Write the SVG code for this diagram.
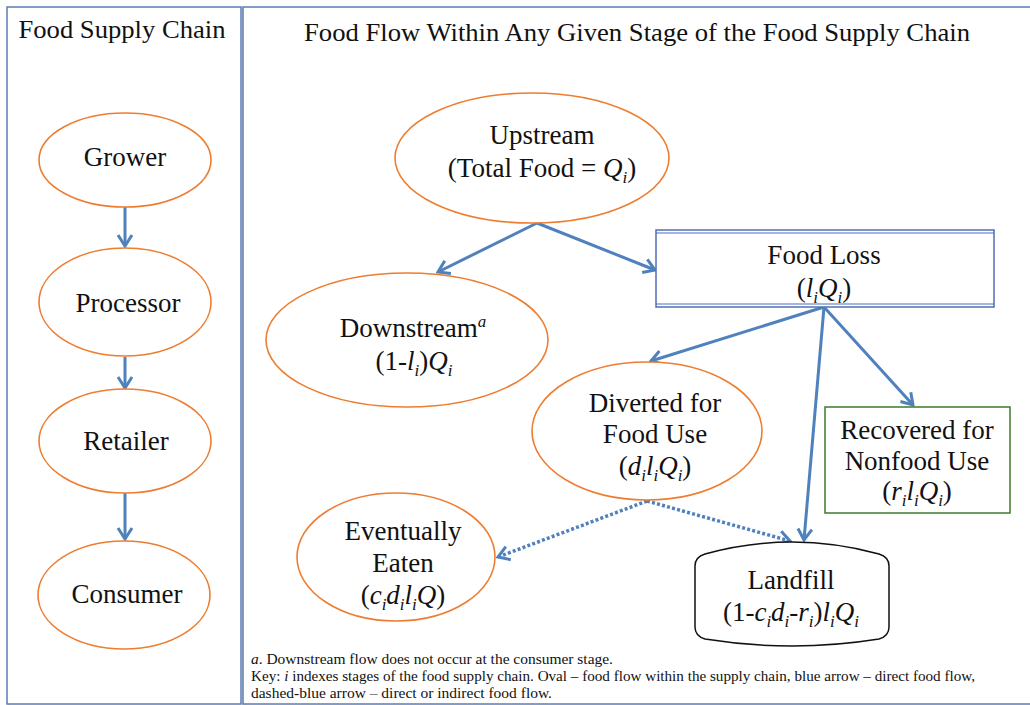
<svg xmlns="http://www.w3.org/2000/svg" width="1030" height="705" viewBox="0 0 1030 705">
<style>
  .panel{fill:#fff;stroke:#5b7bb3;stroke-width:1.5}
  .shadow{fill:none;stroke:#e2e2e2;stroke-width:2}
  .oval{fill:#fff;stroke:#ed7d31;stroke-width:1.6}
  .t{font-family:"Liberation Serif",serif;font-size:27px;fill:#111;text-anchor:middle}
  .title{font-family:"Liberation Serif",serif;font-size:26px;fill:#111;text-anchor:middle}
  .fn{font-family:"Liberation Serif",serif;font-size:14.5px;fill:#111}
  .it{font-style:italic}
  .sb{font-style:italic;font-size:17px}
  .arr{fill:none;stroke:#4f81bd;stroke-width:3}
  .dot{fill:none;stroke:#4f81bd;stroke-width:3.5;stroke-dasharray:3 2.2}
</style>
<defs>
  <marker id="ah" markerUnits="userSpaceOnUse" viewBox="-14 -9 16 18" markerWidth="16" markerHeight="18" refX="0" refY="0" orient="auto">
    <path d="M-11,-7 L0,0 L-11,7" fill="none" stroke="#4f81bd" stroke-width="3" stroke-linejoin="miter"/>
  </marker>
</defs>
<rect width="1030" height="705" fill="#fff"/>
<g id="panels">
  <rect class="shadow" x="9" y="9" width="234" height="700"/>
  <rect class="panel" x="7" y="7" width="234" height="697"/>
  <rect class="shadow" x="246" y="9" width="790" height="700"/>
  <rect class="panel" x="243" y="7" width="790" height="697"/>
  <text class="title" x="122" y="38" textLength="207" lengthAdjust="spacingAndGlyphs">Food Supply Chain</text>
  <text class="title" x="637" y="41" textLength="666" lengthAdjust="spacingAndGlyphs">Food Flow Within Any Given Stage of the Food Supply Chain</text>
</g>
<g id="connectors">
  <line class="arr" x1="125" y1="207" x2="125" y2="246" marker-end="url(#ah)"/>
  <line class="arr" x1="125" y1="357" x2="125" y2="388" marker-end="url(#ah)"/>
  <line class="arr" x1="125" y1="493" x2="125" y2="539" marker-end="url(#ah)"/>
  <line class="arr" x1="537" y1="223" x2="438" y2="272" marker-end="url(#ah)"/>
  <line class="arr" x1="537" y1="223" x2="655" y2="270" marker-end="url(#ah)"/>
  <line class="arr" x1="824" y1="307" x2="651" y2="361" marker-end="url(#ah)"/>
  <line class="arr" x1="824" y1="307" x2="913" y2="405" marker-end="url(#ah)"/>
  <line class="arr" x1="824" y1="307" x2="804" y2="540" marker-end="url(#ah)"/>
  <line class="dot" x1="647" y1="501" x2="498" y2="557" marker-end="url(#ah)"/>
  <line class="dot" x1="647" y1="501" x2="790" y2="541" marker-end="url(#ah)"/>
</g>
<g id="grower">
  <ellipse class="oval" cx="125" cy="160" rx="86" ry="47"/>
  <text class="t" x="125" y="166">Grower</text>
</g>
<g id="processor">
  <ellipse class="oval" cx="125" cy="302" rx="86" ry="54"/>
  <text class="t" x="128" y="312">Processor</text>
</g>
<g id="retailer">
  <ellipse class="oval" cx="125" cy="441" rx="86" ry="52"/>
  <text class="t" x="126" y="450">Retailer</text>
</g>
<g id="consumer">
  <ellipse class="oval" cx="124" cy="595" rx="86" ry="54"/>
  <text class="t" x="127" y="603">Consumer</text>
</g>
<g id="upstream">
  <ellipse class="oval" cx="532" cy="158" rx="137" ry="65"/>
  <text class="t" x="542" y="144">Upstream</text>
  <text class="t" x="542" y="177">(Total Food = <tspan class="it">Q</tspan><tspan class="sb" dy="6">i</tspan><tspan dy="-6">)</tspan></text>
</g>
<g id="foodloss">
  <rect x="656" y="230" width="338" height="77" fill="#fff" stroke="#4f6fb5" stroke-width="1.5"/>
  <line x1="656" y1="233" x2="994" y2="233" stroke="#4f6fb5" stroke-width="1.2"/>
  <line x1="656" y1="304" x2="994" y2="304" stroke="#4f6fb5" stroke-width="1.2"/>
  <text class="t" x="824" y="264">Food Loss</text>
  <text class="t" x="824" y="297">(<tspan class="it">l</tspan><tspan class="sb" dy="6">i</tspan><tspan class="it" dy="-6">Q</tspan><tspan class="sb" dy="6">i</tspan><tspan dy="-6">)</tspan></text>
</g>
<g id="downstream">
  <ellipse class="oval" cx="407" cy="340" rx="141" ry="67"/>
  <text class="t" x="413" y="337">Downstream<tspan class="sb" dy="-10">a</tspan></text>
  <text class="t" x="414" y="370">(1-<tspan class="it">l</tspan><tspan class="sb" dy="6">i</tspan><tspan dy="-6">)</tspan><tspan class="it">Q</tspan><tspan class="sb" dy="6">i</tspan></text>
</g>
<g id="diverted">
  <ellipse class="oval" cx="647" cy="431" rx="115" ry="69"/>
  <text class="t" x="655" y="412">Diverted for</text>
  <text class="t" x="655" y="443">Food Use</text>
  <text class="t" x="655" y="475">(<tspan class="it">d</tspan><tspan class="sb" dy="6">i</tspan><tspan class="it" dy="-6">l</tspan><tspan class="sb" dy="6">i</tspan><tspan class="it" dy="-6">Q</tspan><tspan class="sb" dy="6">i</tspan><tspan dy="-6">)</tspan></text>
</g>
<g id="recovered">
  <rect x="825" y="407" width="185" height="106" fill="#fff" stroke="#3c7a2e" stroke-width="1.5"/>
  <text class="t" x="917" y="439">Recovered for</text>
  <text class="t" x="917" y="470">Nonfood Use</text>
  <text class="t" x="917" y="500">(<tspan class="it">r</tspan><tspan class="sb" dy="6">i</tspan><tspan class="it" dy="-6">l</tspan><tspan class="sb" dy="6">i</tspan><tspan class="it" dy="-6">Q</tspan><tspan class="sb" dy="6">i</tspan><tspan dy="-6">)</tspan></text>
</g>
<g id="eaten">
  <ellipse class="oval" cx="396" cy="557" rx="99" ry="64"/>
  <text class="t" x="403" y="540">Eventually</text>
  <text class="t" x="403" y="572">Eaten</text>
  <text class="t" x="403" y="604">(<tspan class="it">c</tspan><tspan class="sb" dy="6">i</tspan><tspan class="it" dy="-6">d</tspan><tspan class="sb" dy="6">i</tspan><tspan class="it" dy="-6">l</tspan><tspan class="sb" dy="6">i</tspan><tspan class="it" dy="-6">Q</tspan>)</text>
</g>
<g id="landfill">
  <path d="M695,566 Q695,557 705,554 Q792,530 879,554 Q889,557 889,566 L889,627 Q889,636 879,639 Q792,653 705,639 Q695,636 695,627 Z" fill="#fff" stroke="#111" stroke-width="1.5"/>
  <text class="t" x="791" y="589">Landfill</text>
  <text class="t" x="791" y="621">(1-<tspan class="it">c</tspan><tspan class="sb" dy="6">i</tspan><tspan class="it" dy="-6">d</tspan><tspan class="sb" dy="6">i</tspan><tspan dy="-6">-</tspan><tspan class="it">r</tspan><tspan class="sb" dy="6">i</tspan><tspan dy="-6">)</tspan><tspan class="it">l</tspan><tspan class="sb" dy="6">i</tspan><tspan class="it" dy="-6">Q</tspan><tspan class="sb" dy="6">i</tspan></text>
</g>
<g id="footnote">
  <text class="fn" x="251" y="664" textLength="362" lengthAdjust="spacingAndGlyphs"><tspan class="it">a</tspan>. Downstream flow does not occur at the consumer stage.</text>
  <text class="fn" x="251" y="681" textLength="724" lengthAdjust="spacingAndGlyphs">Key: <tspan class="it">i</tspan> indexes stages of the food supply chain. Oval – food flow within the supply chain, blue arrow – direct food flow,</text>
  <text class="fn" x="251" y="698" textLength="301" lengthAdjust="spacingAndGlyphs">dashed-blue arrow – direct or indirect food flow.</text>
</g>
</svg>
